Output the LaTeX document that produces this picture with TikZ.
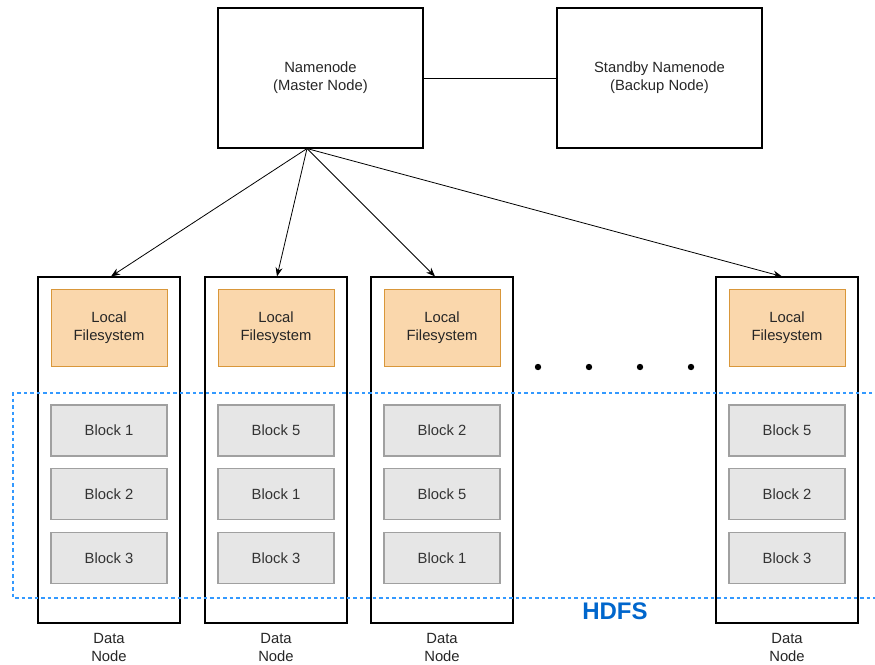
\documentclass[tikz,border=0pt]{standalone}
\usepackage{fontspec}
\setmainfont{Liberation Sans}
\usetikzlibrary{arrows.meta}

\definecolor{fsfill}{HTML}{FAD7AC}
\definecolor{fsline}{HTML}{D9973A}
\definecolor{blkfill}{HTML}{E6E6E6}
\definecolor{blkline}{HTML}{A0A0A0}
\definecolor{hdfsline}{HTML}{3399FF}
\definecolor{hdfstext}{HTML}{0066CC}

\begin{document}
\begin{tikzpicture}[x=1pt, y=-1pt, font=\fontsize{14.8}{18}\selectfont,
    server/.style={draw, line width=1.1pt, minimum width=205pt, minimum height=140pt, align=center, text=black!85},
    datanode/.style={draw, line width=1.1pt, minimum width=142pt, minimum height=346pt},
    localfs/.style={draw=fsline, fill=fsfill, line width=1pt, minimum width=116pt, minimum height=77pt, align=center, text=black!85},
    block/.style={draw=blkline, fill=blkfill, line width=1.1pt, minimum width=116pt, minimum height=51pt, text=black!80},
    link/.style={-{Stealth[length=9pt,width=7pt]}, line width=0.8pt}]
\useasboundingbox (0,0) rectangle (875,664);

% Namenode and its standby
\node[server] (master) at (320.5,78) {Namenode\\(Master Node)};
\node[server] (standby) at (659.5,78) {Standby Namenode\\(Backup Node)};
\draw[line width=1pt] (master) -- (standby);

% Data nodes with their local filesystem and blocks
\foreach \i/\x/\ba/\bb/\bc in {1/109/1/2/3, 2/276/5/1/3, 3/442/2/5/1, 4/787/5/2/3} {
    \node[datanode] (dn\i) at (\x,450) {};
    \node[localfs] (fs\i) at (\x,327.5) {Local\\Filesystem};
    \node[block] (blk\i-1) at (\x,430.5) {Block \ba};
    \node[block] (blk\i-2) at (\x,494) {Block \bb};
    \node[block] (blk\i-3) at (\x,558) {Block \bc};
    \node[align=center, text=black!85] (lbl\i) at (\x,647) {Data\\Node};
}

% Arrows from the master
\coordinate (hub) at ([xshift=-13.5pt]master.south);
\draw[link] (hub) -- ([xshift=2pt]dn1.north);
\draw[link] (hub) -- ([xshift=1pt]dn2.north);
\draw[link] (hub) -- ([xshift=-7pt]dn3.north);
\draw[link] (hub) -- ([xshift=-5pt]dn4.north);

% More data nodes
\foreach \x in {538,589,640,691} {
    \fill (\x,367) circle (3.2pt);
}

% HDFS region
\draw[hdfsline, dash pattern=on 3.5pt off 3pt, line width=1.2pt] (885,393) -| (13,598) -- (885,598);
\node[text=hdfstext, font=\fontsize{24}{28}\selectfont\bfseries] (hdfs) at (615,611) {HDFS};

\end{tikzpicture}
\end{document}
